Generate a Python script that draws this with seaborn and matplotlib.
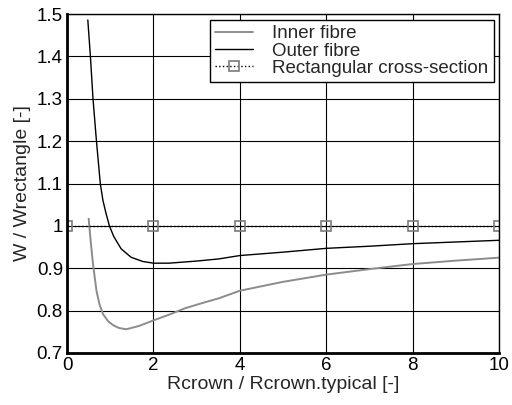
import matplotlib
matplotlib.use("Agg")
import matplotlib.pyplot as plt
import seaborn as sns
import pandas as pd
from matplotlib.ticker import FormatStrFormatter

# values
inner_x = [0.50, 0.55, 0.60, 0.68, 0.75, 0.83, 0.95, 1.06, 1.2, 1.37, 1.67, 2.0, 2.4, 2.74, 3.2, 3.51, 4, 5, 6, 7, 8, 9, 10]
inner_y = [1.017, 0.96, 0.91, 0.847, 0.815, 0.792, 0.775, 0.766, 0.759, 0.756, 0.764, 0.777, 0.792, 0.806, 0.82, 0.829, 0.847, 0.868, 0.885, 0.898, 0.91, 0.918, 0.925]
outer_x = [0.48, 0.54, 0.60, 0.68, 0.77, 0.83, 0.90, 0.98, 1.08, 1.25, 1.48, 1.75, 2.0, 2.36, 3.0, 3.51, 4, 5, 6, 7, 8, 9, 10]
outer_y = [1.486, 1.40, 1.30, 1.20, 1.099, 1.06, 1.03, 1.0, 0.975, 0.946, 0.926, 0.916, 0.912, 0.912, 0.917, 0.922, 0.930, 0.938, 0.947, 0.952, 0.958, 0.962, 0.966]
rect_x = [0, 2, 4, 6, 8, 10]
rect_y = [1, 1, 1, 1, 1, 1]

sns.set_style("white")
plt.rcParams['font.family'] = ['Liberation Sans', 'DejaVu Sans']

fig = plt.figure(figsize=(5.12, 4.05), dpi=100)
ax = fig.add_axes([0.131, 0.1284, 0.844, 0.837])

sns.lineplot(x=inner_x, y=inner_y, ax=ax, color='#8c8c8c', linewidth=1.4, sort=False,
             label='Inner fibre')
sns.lineplot(x=outer_x, y=outer_y, ax=ax, color='black', linewidth=1.0, sort=False,
             label='Outer fibre')
sns.lineplot(x=rect_x, y=rect_y, ax=ax, color='black', linewidth=1.0, linestyle=':',
             marker='s', markersize=7, markerfacecolor='none', markeredgecolor='#7a7a7a',
             markeredgewidth=1.2, label='Rectangular cross-section')

ax.set_xlim(0, 10)
ax.set_ylim(0.7, 1.5)
ax.set_xticks([0, 2, 4, 6, 8, 10])
ax.set_yticks([0.7, 0.8, 0.9, 1.0, 1.1, 1.2, 1.3, 1.4, 1.5])
ax.yaxis.set_major_formatter(FormatStrFormatter('%g'))
ax.grid(True, color='black', linewidth=0.8)
ax.set_axisbelow(True)
ax.tick_params(length=0, labelsize=13.5, colors='black', pad=3)

for s in ['left', 'bottom']:
    ax.spines[s].set_linewidth(2)
for s in ['top', 'right']:
    ax.spines[s].set_linewidth(1)
for s in ax.spines.values():
    s.set_color('black')
    s.set_visible(True)

ax.set_xlabel('Rcrown / Rcrown.typical [-]', fontsize=14, labelpad=1)
ax.set_ylabel('W / Wrectangle [-]', fontsize=14, labelpad=4)

leg = ax.legend(loc='upper right', fontsize=13.5, frameon=True, fancybox=False,
                borderaxespad=0.3, handlelength=2.0, handletextpad=1.0,
                labelspacing=0.0, borderpad=0.3)
leg.get_frame().set_edgecolor('black')
leg.get_frame().set_linewidth(1.0)
leg.get_frame().set_alpha(1)

fig.savefig('out.png', dpi=100)
